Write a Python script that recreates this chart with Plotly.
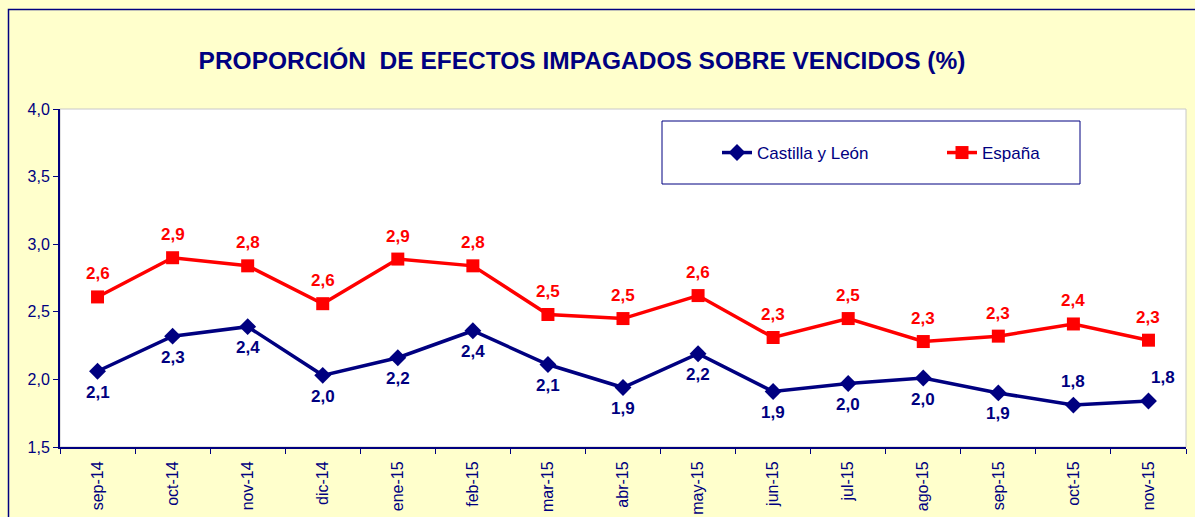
import plotly.graph_objects as go

months = ["sep-14", "oct-14", "nov-14", "dic-14", "ene-15", "feb-15", "mar-15", "abr-15",
          "may-15", "jun-15", "jul-15", "ago-15", "sep-15", "oct-15", "nov-15"]
castilla = [2.06, 2.32, 2.39, 2.03, 2.16, 2.36, 2.11, 1.94, 2.19, 1.91, 1.97, 2.01, 1.90, 1.81, 1.84]
espana = [2.61, 2.90, 2.84, 2.56, 2.89, 2.84, 2.48, 2.45, 2.62, 2.31, 2.45, 2.28, 2.32, 2.41, 2.29]
castilla_pos = ["below"] * 13 + ["above", "above right"]

W, H = 1195, 517
L, R, T, B = 60, 1186, 109, 447
NAVY = "#000080"
RED = "#FF0000"
FONT = "Liberation Sans, Arial, sans-serif"


def fmt(v):
    return f"{v:.1f}".replace(".", ",")


def px(x):
    return (x - L) / (R - L)


def py(y):
    return (B - y) / (B - T)


fig = go.Figure()
fig.add_trace(go.Scatter(
    x=months, y=castilla, name="Castilla y León", mode="lines+markers",
    line=dict(color=NAVY, width=3.5), marker=dict(symbol="diamond", size=13, color=NAVY),
))
fig.add_trace(go.Scatter(
    x=months, y=espana, name="España", mode="lines+markers",
    line=dict(color=RED, width=3.5), marker=dict(symbol="square", size=13, color=RED),
))

annotations = []
for m, v, pos in zip(months, castilla, castilla_pos):
    shift_y = -21 if pos == "below" else 24
    shift_x = 15 if pos == "above right" else 0
    annotations.append(dict(x=m, y=v, xref="x", yref="y", text=f"<b>{fmt(v)}</b>", showarrow=False,
                            xshift=shift_x, yshift=shift_y,
                            font=dict(family=FONT, size=17, color=NAVY)))
for m, v in zip(months, espana):
    annotations.append(dict(x=m, y=v, xref="x", yref="y", text=f"<b>{fmt(v)}</b>", showarrow=False,
                            yshift=23, font=dict(family=FONT, size=17, color=RED)))

fig.update_layout(
    width=W, height=H,
    margin=dict(l=L, r=W - R, t=T, b=H - B, autoexpand=False),
    paper_bgcolor="#FFFFCC", plot_bgcolor="white",
    separators=",.",
    font=dict(family=FONT, color=NAVY),
    title=dict(text="<b>PROPORCIÓN  DE EFECTOS IMPAGADOS SOBRE VENCIDOS (%)</b>",
               x=582 / W, xref="container", xanchor="center",
               y=1 - 60 / H, yref="container", yanchor="middle",
               font=dict(family=FONT, size=24.5, color=NAVY)),
    showlegend=True,
    legend=dict(orientation="h", x=px(717), y=py(153), xanchor="left", yanchor="middle",
                bgcolor="rgba(0,0,0,0)", font=dict(family=FONT, size=17, color=NAVY),
                entrywidth=180, itemwidth=30),
    annotations=annotations,
    xaxis=dict(type="category", showgrid=False, showline=True, linecolor=NAVY, linewidth=2,
               ticks="outside", ticklen=5, tickcolor=NAVY, tickwidth=1, tickson="boundaries",
               tickangle=-90, tickfont=dict(family=FONT, size=16, color=NAVY),
               ticklabelstandoff=6, automargin=False,
               mirror=False, range=[-0.5, len(months) - 0.5]),
    yaxis=dict(range=[1.5, 4.0], dtick=0.5, tickformat=".1f", showgrid=False, automargin=False,
               showline=True, linecolor=NAVY, linewidth=2, ticks="outside", ticklen=5,
               tickcolor=NAVY, tickfont=dict(family=FONT, size=16, color=NAVY), zeroline=False),
    shapes=[
        dict(type="rect", xref="paper", yref="paper", x0=0, x1=1, y0=0, y1=1,
             line=dict(color="#C8C8C8", width=1), layer="below"),
        dict(type="rect", xref="paper", yref="paper", x0=px(662), x1=px(1080), y0=py(184), y1=py(121),
             line=dict(color=NAVY, width=1), fillcolor="white", layer="below"),
        dict(type="rect", xref="paper", yref="paper", x0=px(8.5), x1=px(1200), y0=py(522), y1=py(9.5),
             line=dict(color=NAVY, width=1.5)),
    ],
)

fig.write_html("out.html")
